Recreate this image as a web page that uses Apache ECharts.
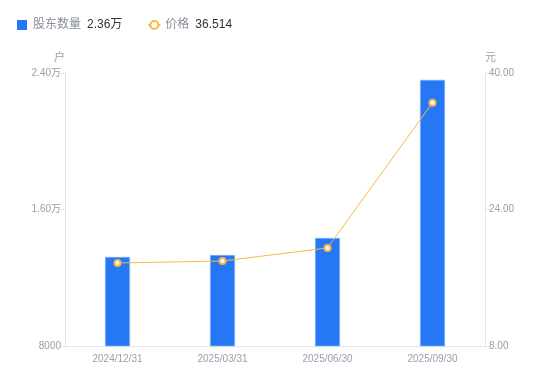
<!DOCTYPE html>
<html>
<head>
<meta charset="utf-8">
<script src="https://cdn.jsdelivr.net/npm/echarts@6/dist/echarts.min.js"></script>
<style>
  html, body { margin: 0; padding: 0; background: #fff; }
  #chart { width: 550px; height: 381px; }
</style>
</head>
<body>
<div id="chart"></div>
<script>
const dates = ["2024/12/31", "2025/03/31", "2025/06/30", "2025/09/30"];
const holders = [13220, 13330, 14330, 23600];
const prices = [17.73, 17.96, 19.49, 36.514];

const fontFamily = '"Liberation Sans", "Noto Sans CJK SC", sans-serif';
const chart = echarts.init(document.getElementById("chart"), null, { renderer: "canvas", width: 550, height: 381 });

function wan(v) {
  return v >= 10000 ? (v / 10000).toFixed(2) + "万" : String(v);
}

chart.setOption({
  animation: false,
  backgroundColor: "#ffffff",
  textStyle: { fontFamily },
  legend: {
    left: 12,
    top: 14,
    itemWidth: 12,
    itemHeight: 10,
    itemGap: 25,
    textStyle: {
      color: "#888e9a",
      fontSize: 12,
      fontFamily,
      rich: { v: { color: "#333", fontSize: 12, fontFamily, padding: [0, 0, 0, 6] } }
    },
    formatter(name) {
      if (name === "股东数量") return name + "{v|" + wan(holders[holders.length - 1]) + "}";
      return name + "{v|" + prices[prices.length - 1] + "}";
    },
    data: [
      { name: "股东数量", icon: "path://M1,0 H11 V10 H1 Z", itemStyle: { color: "#2577f5", borderWidth: 0 } },
      { name: "价格", itemStyle: { borderWidth: 2 } }
    ]
  },
  grid: { left: 65, right: 65, top: 73, bottom: 35 },
  xAxis: {
    type: "category",
    data: dates,
    axisLine: { lineStyle: { color: "#e3e5e8" } },
    axisTick: { show: false },
    axisLabel: { color: "#9a9eab", fontSize: 10, margin: 8 }
  },
  yAxis: [
    {
      type: "value",
      name: "户",
      nameGap: 10,
      nameTextStyle: { color: "#9a9eab", fontSize: 11, align: "right" },
      min: 8000,
      max: 24000,
      interval: 8000,
      axisLine: { show: true, lineStyle: { color: "#e3e5e8" } },
      axisTick: { show: true, length: 4, lineStyle: { color: "#e3e5e8" } },
      splitLine: { show: false },
      axisLabel: { color: "#9a9eab", fontSize: 10, margin: 4, formatter: wan }
    },
    {
      type: "value",
      name: "元",
      nameGap: 10,
      nameTextStyle: { color: "#9a9eab", fontSize: 11, align: "left" },
      min: 8,
      max: 40,
      interval: 16,
      position: "right",
      axisLine: { show: true, lineStyle: { color: "#e3e5e8" } },
      axisTick: { show: true, length: 4, lineStyle: { color: "#e3e5e8" } },
      splitLine: { show: false },
      axisLabel: { color: "#9a9eab", fontSize: 10, margin: 4, formatter: v => v.toFixed(2) }
    }
  ],
  series: [
    {
      name: "股东数量",
      type: "bar",
      data: holders,
      barWidth: 25,
      itemStyle: { color: "#2577f5", borderColor: "#8db8fa", borderWidth: 0.6 }
    },
    {
      name: "价格",
      type: "line",
      yAxisIndex: 1,
      data: prices,
      symbol: "circle",
      symbolSize: 6,
      lineStyle: { color: "#f6b84a", width: 1 },
      itemStyle: { color: "#ffffff", borderColor: "#f6b84a", borderWidth: 2 }
    }
  ]
});
</script>
</body>
</html>
